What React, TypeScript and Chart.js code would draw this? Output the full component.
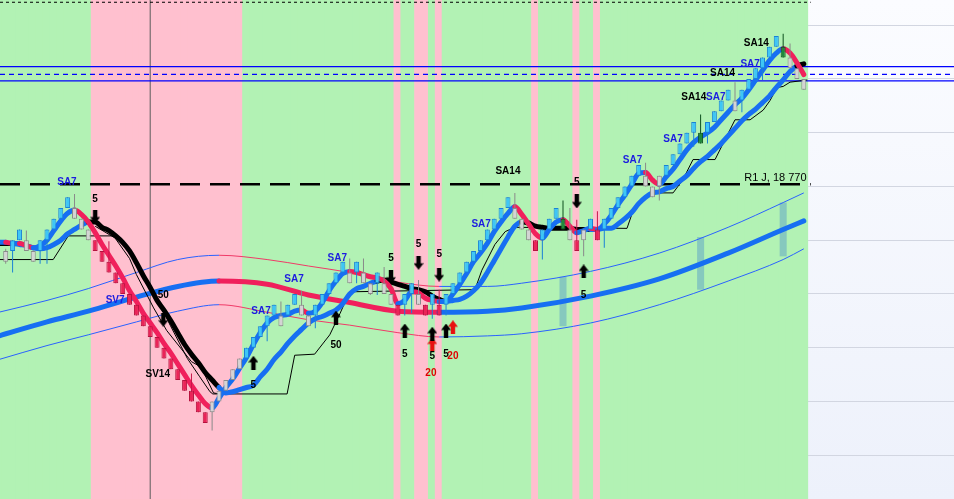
import { useEffect, useRef } from 'react';
import { Chart, registerables } from 'chart.js';

Chart.register(...registerables);

// ---------------- frame (candle index on x, index points on y) ----------------
const X_MIN = -0.83;
const X_MAX = 137.83;
const Y_MIN = 18477.3;
const Y_MAX = 18941.4;
const gridTicks = [18518, 18568, 18618, 18668, 18718, 18768, 18818, 18868, 18918];

// ---------------- range-bar candles (index 0..116) ----------------
const candleOpen = [
  18708, 18708, 18718, 18718, 18708, 18708, 18718, 18728, 18738, 18748,
  18748, 18738, 18728, 18718, 18708, 18698, 18688, 18678, 18668, 18658,
  18648, 18638, 18628, 18618, 18608, 18598, 18588, 18578, 18568, 18558,
  18558, 18568, 18578, 18588, 18598, 18608, 18618, 18628, 18638, 18648,
  18648, 18648, 18658, 18658, 18648, 18648, 18658, 18668, 18678, 18688,
  18688, 18688, 18688, 18678, 18678, 18678, 18668, 18658, 18658, 18668,
  18668, 18658, 18658, 18658, 18658, 18668, 18678, 18688, 18698, 18708,
  18718, 18728, 18738, 18748, 18748, 18738, 18728, 18718, 18718, 18728,
  18738, 18738, 18728, 18718, 18718, 18728, 18728, 18728, 18738, 18748,
  18758, 18768, 18778, 18778, 18768, 18768, 18778, 18788, 18798, 18808,
  18818, 18818, 18818, 18828, 18838, 18848, 18848, 18848, 18858, 18868,
  18878, 18888, 18898, 18898, 18888, 18878, 18868,
];
const candleClose = [
  18698, 18718, 18728, 18708, 18698, 18718, 18728, 18738, 18748, 18758,
  18738, 18728, 18718, 18708, 18698, 18688, 18678, 18668, 18658, 18648,
  18638, 18628, 18618, 18608, 18598, 18588, 18578, 18568, 18558, 18548,
  18568, 18578, 18588, 18598, 18608, 18618, 18628, 18638, 18648, 18658,
  18638, 18658, 18668, 18648, 18638, 18658, 18668, 18678, 18688, 18698,
  18678, 18698, 18678, 18668, 18688, 18668, 18658, 18648, 18668, 18678,
  18658, 18648, 18668, 18648, 18668, 18678, 18688, 18698, 18708, 18718,
  18728, 18738, 18748, 18758, 18738, 18728, 18718, 18708, 18728, 18738,
  18748, 18728, 18718, 18708, 18728, 18738, 18718, 18738, 18748, 18758,
  18768, 18778, 18788, 18768, 18758, 18778, 18788, 18798, 18808, 18818,
  18828, 18808, 18828, 18838, 18848, 18858, 18838, 18858, 18868, 18878,
  18888, 18898, 18908, 18888, 18878, 18868, 18858,
];
const candleHigh = [
  18710, 18718, 18728, 18727, 18708, 18718, 18728, 18738, 18748, 18758,
  18761, 18738, 18728, 18718, 18708, 18717, 18688, 18678, 18668, 18658,
  18648, 18638, 18628, 18618, 18608, 18598, 18588, 18594, 18568, 18558,
  18568, 18578, 18588, 18598, 18608, 18618, 18628, 18638, 18648, 18658,
  18661, 18658, 18668, 18671, 18648, 18658, 18668, 18678, 18688, 18698,
  18701, 18698, 18701, 18678, 18688, 18693, 18668, 18658, 18668, 18678,
  18681, 18658, 18668, 18672, 18668, 18678, 18688, 18698, 18708, 18718,
  18728, 18738, 18748, 18758, 18762, 18738, 18728, 18718, 18728, 18738,
  18748, 18755, 18748, 18737, 18728, 18738, 18745, 18738, 18748, 18758,
  18768, 18778, 18788, 18790, 18768, 18778, 18788, 18798, 18808, 18818,
  18828, 18835, 18828, 18838, 18848, 18858, 18865, 18858, 18868, 18878,
  18888, 18898, 18908, 18910, 18901, 18878, 18868,
];
const candleLow = [
  18696, 18688, 18718, 18708, 18698, 18696, 18696, 18728, 18738, 18748,
  18738, 18728, 18718, 18708, 18698, 18688, 18678, 18668, 18658, 18648,
  18638, 18628, 18618, 18608, 18598, 18588, 18578, 18568, 18558, 18548,
  18541, 18568, 18578, 18588, 18598, 18608, 18618, 18628, 18624, 18648,
  18638, 18648, 18658, 18648, 18638, 18636, 18658, 18668, 18678, 18688,
  18678, 18678, 18678, 18667, 18667, 18668, 18658, 18648, 18648, 18650,
  18658, 18648, 18645, 18648, 18648, 18668, 18678, 18688, 18698, 18708,
  18718, 18728, 18738, 18748, 18738, 18728, 18718, 18708, 18700, 18728,
  18738, 18728, 18718, 18708, 18703, 18728, 18718, 18711, 18738, 18748,
  18758, 18768, 18778, 18768, 18758, 18755, 18778, 18788, 18798, 18808,
  18805, 18808, 18808, 18828, 18838, 18848, 18838, 18837, 18858, 18868,
  18867, 18888, 18898, 18888, 18878, 18868, 18858,
];
// u = trend-up bar, g = counter bar, r = trend-down bar, s = signal bar
const candleState = [
  'g', 'u', 'u', 'g', 'g', 'u', 'u', 'u', 'u', 'u',
  'g', 'g', 'g', 'r', 'r', 'r', 'r', 'r', 'r', 'r',
  'r', 'r', 'r', 'r', 'r', 'r', 'r', 'r', 'r', 'r',
  'g', 'g', 'g', 'g', 'g', 'u', 'u', 'u', 'u', 'u',
  'g', 'u', 'u', 'g', 'g', 'u', 'u', 'u', 'u', 'u',
  'g', 'u', 'g', 'g', 'u', 'g', 'g', 'r', 'u', 'u',
  'g', 'r', 'u', 'r', 'u', 'u', 'u', 'u', 'u', 'u',
  'u', 'u', 'u', 'u', 'g', 'g', 'g', 'r', 'u', 'u',
  'u', 's', 'g', 'r', 'g', 'u', 'r', 'u', 'u', 'u',
  'u', 'u', 'u', 'g', 'g', 'g', 'u', 'u', 'u', 'u',
  'u', 's', 'u', 'u', 'u', 'u', 'g', 'u', 'u', 'u',
  'u', 'u', 'u', 's', 'g', 'g', 'g',
];

// sell (pink) zones, candle index ranges
const sellZones = [[13, 34], [57, 57], [60, 61], [63, 63], [77, 77], [83, 83], [86, 86]];

// ---------------- moving averages (index -1..116) ----------------
const lineStart = -1;
const sa7 = [
  18716,
  18716, 18715, 18715, 18713, 18711, 18713, 18718, 18727, 18736, 18743,
  18746, 18742, 18735, 18725, 18714, 18704, 18694, 18683, 18671, 18661,
  18650, 18641, 18632, 18622, 18613, 18603, 18593, 18583, 18574, 18566,
  18562, 18571, 18581, 18589, 18599, 18609, 18621, 18632, 18641, 18646,
  18648, 18649, 18652, 18653, 18650, 18652, 18660, 18671, 18680, 18687,
  18689, 18688, 18686, 18684, 18683, 18680, 18673, 18659, 18662, 18670,
  18669, 18664, 18662, 18661, 18661, 18668, 18677, 18687, 18698, 18706,
  18715, 18726, 18735, 18743, 18749, 18742, 18733, 18724, 18720, 18728,
  18735, 18737, 18731, 18725, 18727, 18729, 18728, 18733, 18741, 18751,
  18760, 18770, 18780, 18781, 18774, 18770, 18777, 18784, 18793, 18802,
  18809, 18814, 18818, 18823, 18830, 18837, 18844, 18850, 18858, 18867,
  18876, 18885, 18892, 18896, 18892, 18883, 18872,
];
const sa14 = [
  18715,
  18715, 18715, 18714, 18713, 18711, 18710, 18711, 18714, 18718, 18724,
  18728, 18732, 18735, 18735, 18730, 18727, 18722, 18716, 18708, 18697,
  18685, 18674, 18662, 18653, 18643, 18632, 18621, 18612, 18604, 18595,
  18588, 18581, 18576, 18577, 18579, 18581, 18583, 18591, 18598, 18607,
  18614, 18622, 18629, 18635, 18641, 18645, 18647, 18650, 18653, 18659,
  18668, 18673, 18675, 18678, 18680, 18681, 18679, 18677, 18675, 18673,
  18672, 18670, 18666, 18663, 18661, 18662, 18663, 18666, 18671, 18678,
  18688, 18699, 18710, 18721, 18731, 18735, 18734, 18731, 18730, 18729,
  18729, 18729, 18729, 18728, 18728, 18728, 18728, 18729, 18729, 18733,
  18738, 18744, 18752, 18758, 18762, 18763, 18766, 18768, 18773, 18778,
  18785, 18791, 18796, 18802, 18808, 18815, 18822, 18829, 18835, 18840,
  18846, 18852, 18860, 18867, 18875, 18880, 18882,
];
const sa14BearZones = [[-1, 1], [12, 31], [54, 64], [75, 85], [115, 116]];

// 50-period average and its envelope
const maIdx = [-1, 6, 12, 19, 25, 31, 38, 44, 50, 57, 63, 70, 75, 85, 95, 105, 113, 116];
const ma50 = [18629, 18642, 18652, 18665, 18675, 18680, 18677, 18667, 18660, 18652, 18651, 18652, 18655, 18666, 18682, 18706, 18728, 18736];
const envUpper = [18651, 18662, 18673, 18688, 18700, 18704, 18700, 18694, 18688, 18679, 18675, 18675, 18678, 18689, 18706, 18730, 18753, 18762];
const envLower = [18607, 18620, 18630, 18642, 18652, 18658, 18651, 18644, 18639, 18632, 18628, 18629, 18631, 18641, 18658, 18680, 18700, 18710];

// thin trailing lines
const stopIdx = [-1, 6.9, 9.1, 15.9, 17.3, 19.5, 21.0, 23.9, 26.4, 28.2, 29.7, 30.1, 40.9, 42.0, 44.9, 47.1, 48.6, 50.0, 68.2, 69.2, 71.1, 72.6, 74.0, 90.3, 91.0, 92.2, 93.4, 94.4, 97.0, 98.4, 99.9, 103.1, 106.0, 108.2, 110.1, 111.1, 112.1, 113.0, 114.0, 116.5];
const stopVal = [18700, 18700, 18722, 18722, 18714, 18692, 18676, 18639, 18608, 18591, 18577, 18575, 18575, 18611, 18612, 18630, 18650, 18670, 18672, 18690, 18714, 18726, 18730, 18729, 18742, 18755, 18760, 18762, 18762, 18774, 18793, 18793, 18830, 18830, 18839, 18848, 18860, 18861, 18865, 18867];
const stop2Idx = [13.0, 15.9, 18.0, 19.0, 21.5, 23.4, 27.0, 28.4, 30.2, 31.0];
const stop2Val = [18731, 18720, 18701, 18686, 18655, 18634, 18605, 18600, 18576, 18575];

// signal columns
const signalIdx = [81, 101, 113];
const signalLow = [18638, 18672, 18703];
const signalHigh = [18684, 18721, 18753];

// horizontal levels
const r1Level = 18770;
const r1EndIdx = 117;
const topLevel = 18939.3;
const blueLevels = [18879.5, 18866.1];
const blueDashedLevel = 18872.3;
const crosshairIdx = 21;

// arrows
const arrowDownIdx = [13, 22.9, 56, 60, 63, 83];
const arrowDownVal = [18740, 18644, 18684, 18697, 18686, 18754];
const arrowUpIdx = [36, 48, 58, 62, 64, 84];
const arrowUpVal = [18604, 18646, 18634, 18631, 18634, 18689];
const arrowRedIdx = [62, 65];
const arrowRedVal = [18621, 18637];

// text labels
const labelText = ['SA7', '5', 'SV7', '50', 'SV14', '5', 'SA7', 'SA7', 'SA7', '50', '5', '5', '5', '5', '5', '5', '20', '20', 'SA7', 'SA14', '5', '5', 'SA7', 'SA7', 'SA14', 'SA7', 'SA14', 'SA7', 'SA14'];
const labelIdx = [8.9, 13, 15.9, 22.9, 22.1, 36, 37.1, 41.9, 48.2, 48, 56, 60, 63, 58, 62, 64, 65, 61.8, 69.1, 73, 83, 84, 91.1, 97, 100, 103.2, 104.2, 108.2, 109.1];
const labelVal = [18772, 18756, 18662, 18667, 18593, 18583, 18652, 18682, 18701, 18620, 18701, 18714, 18705, 18612, 18610, 18612, 18610, 18594, 18733, 18782, 18772, 18667, 18792, 18812, 18851, 18851, 18873, 18882, 18901];
const labelTone = ['b', 'k', 'b', 'k', 'k', 'k', 'b', 'b', 'b', 'k', 'k', 'k', 'k', 'k', 'k', 'k', 'r', 'r', 'b', 'k', 'k', 'k', 'b', 'b', 'k', 'b', 'k', 'b', 'k'];
const r1Text = 'R1 J, 18 770';
const r1LabelIdx = 116.4;
const r1LabelVal = 18776;

// ---------------- styles ----------------
const GREEN = '#b2f2b4';
const PINK = '#ffc0cf';
const BLUE = '#176ff2';
const RED = '#f0205c';
const ENV_BLUE = '#2a62ff';
const ENV_RED = '#f03a68';
const fillOf: Record<string, string> = { u: '#3ec6f6', g: '#d4d4d4', r: '#ea2458', s: '#1f8a3b' };
const edgeOf: Record<string, string> = { u: '#1a82d6', g: '#8a8a8a', r: '#b4123e', s: '#0c4f1d' };
const wickOf: Record<string, string> = { u: '#1a82d6', g: '#8a8a8a', r: '#c8164a', s: '#0c4f1d' };
const toneOf: Record<string, string> = { b: '#1c1ce0', k: '#000000', r: '#e00000' };

function inZones(zones: number[][], a: number, b: number = a) {
  return zones.some(([s, e]) => a >= s && b <= e);
}

function makeArrow(up: boolean, color: string) {
  const c = document.createElement('canvas');
  c.width = 10;
  c.height = 14;
  const g = c.getContext('2d')!;
  g.fillStyle = color;
  g.beginPath();
  const pts = [[2.8, 0], [7.2, 0], [7.2, 7.5], [10, 7.5], [5, 14], [0, 7.5], [2.8, 7.5]];
  pts.forEach(([px, py], k) => {
    const yy = up ? 14 - py : py;
    if (k === 0) g.moveTo(px, yy);
    else g.lineTo(px, yy);
  });
  g.closePath();
  g.fill();
  return c;
}

const bgPlugin = {
  id: 'pageBg',
  beforeDraw(chart: any) {
    const { ctx, width, height } = chart;
    const grad = ctx.createLinearGradient(0, 0, 0, height);
    grad.addColorStop(0, '#fbfcff');
    grad.addColorStop(1, '#edf1fb');
    ctx.save();
    ctx.fillStyle = grad;
    ctx.fillRect(0, 0, width, height);
    ctx.restore();
  },
};

const labelPlugin = {
  id: 'textLabels',
  afterDatasetsDraw(chart: any) {
    const { ctx } = chart;
    const xs = chart.scales.x;
    const ys = chart.scales.y;
    ctx.save();
    ctx.textAlign = 'center';
    ctx.textBaseline = 'middle';
    ctx.font = 'bold 10px "Liberation Sans", Arial, sans-serif';
    labelText.forEach((t, i) => {
      ctx.fillStyle = toneOf[labelTone[i]];
      ctx.fillText(t, xs.getPixelForValue(labelIdx[i]), ys.getPixelForValue(labelVal[i]));
    });
    ctx.font = '11px "Liberation Sans", Arial, sans-serif';
    ctx.textAlign = 'right';
    ctx.fillStyle = '#000';
    ctx.fillText(r1Text, xs.getPixelForValue(r1LabelIdx), ys.getPixelForValue(r1LabelVal));
    ctx.restore();
  },
};

export default function App() {
  const ref = useRef<HTMLCanvasElement>(null);

  useEffect(() => {
    const canvas = ref.current;
    if (!canvas) return;

    const arrowDown = makeArrow(false, '#000000');
    const arrowUp = makeArrow(true, '#000000');
    const arrowRed = makeArrow(true, '#e81010');

    const candleIdx = candleOpen.map((_, i) => i);
    const bandIdx = [lineStart, ...candleIdx];
    const lineIdx = sa7.map((_, i) => i + lineStart);

    const line = (label: string, data: any[], color: any, width: number, order: number, extra: any = {}) => ({
      type: 'line',
      label,
      data,
      borderColor: color,
      borderWidth: width,
      pointRadius: 0,
      fill: false,
      order,
      ...extra,
    });

    const bar = (label: string, data: any[], colors: any, thickness: number, order: number, extra: any = {}) => ({
      type: 'bar',
      label,
      data,
      backgroundColor: colors,
      barThickness: thickness,
      stack: 'all',
      borderSkipped: false,
      order,
      ...extra,
    });

    const hLine = (label: string, level: number, from: number, to: number, color: string, width: number, dash: number[], order: number) =>
      line(label, [{ x: from, y: level }, { x: to, y: level }], color, width, order, { borderDash: dash });

    const slopeColor = (up: string, down: string) => (c: any) => (c.p1.parsed.y < c.p0.parsed.y ? down : up);

    const datasets: any[] = [
      bar('bands', bandIdx.map((i) => ({ x: i, y: [0, 1] })), bandIdx.map((i) => (inZones(sellZones, i) ? PINK : GREEN)), 8, 100, { yAxisID: 'yBand', borderWidth: 0 }),
      line('crosshair', [{ x: crosshairIdx, y: Y_MIN }, { x: crosshairIdx, y: Y_MAX }], '#5a5a5a', 1, 95),
      bar('signals', signalIdx.map((x, i) => ({ x, y: [signalLow[i], signalHigh[i]] })), 'rgba(90,160,200,0.5)', 7, 90, { borderWidth: 0, inflateAmount: 0 }),
      line('envUpper', maIdx.map((x, i) => ({ x, y: envUpper[i] })), ENV_BLUE, 1, 80, { cubicInterpolationMode: 'monotone', segment: { borderColor: slopeColor(ENV_BLUE, ENV_RED) } }),
      line('envLower', maIdx.map((x, i) => ({ x, y: envLower[i] })), ENV_BLUE, 1, 80, { cubicInterpolationMode: 'monotone', segment: { borderColor: slopeColor(ENV_BLUE, ENV_RED) } }),
      line('ma50', maIdx.map((x, i) => ({ x, y: ma50[i] })), BLUE, 5, 78, { cubicInterpolationMode: 'monotone', borderCapStyle: 'round', borderJoinStyle: 'round', segment: { borderColor: slopeColor(BLUE, RED) } }),
      hLine('top', topLevel, X_MIN, r1EndIdx, '#000000', 1, [3, 3], 70),
      hLine('blue1', blueLevels[0], X_MIN, X_MAX, '#0000ff', 1.3, [], 70),
      hLine('blue2', blueLevels[1], X_MIN, X_MAX, '#0000ff', 1.3, [], 70),
      hLine('blueDash', blueDashedLevel, X_MIN, X_MAX, '#0000ff', 1.3, [5, 4], 70),
      hLine('r1', r1Level, X_MIN, r1EndIdx, '#000000', 2.6, [20, 10], 70),
      line('stop', stopIdx.map((x, i) => ({ x, y: stopVal[i] })), '#000000', 1, 60),
      line('stop2', stop2Idx.map((x, i) => ({ x, y: stop2Val[i] })), '#000000', 1, 60),
      line('sa14', lineIdx.map((x, i) => ({ x, y: sa14[i] })), BLUE, 5, 50, {
        cubicInterpolationMode: 'monotone',
        borderCapStyle: 'round',
        borderJoinStyle: 'round',
        segment: { borderColor: (c: any) => (inZones(sa14BearZones, c.p0.parsed.x, c.p1.parsed.x) ? '#000000' : BLUE) },
      }),
      line('sa7', lineIdx.map((x, i) => ({ x, y: sa7[i] })), BLUE, 5, 45, {
        cubicInterpolationMode: 'monotone',
        borderCapStyle: 'round',
        borderJoinStyle: 'round',
        segment: { borderColor: slopeColor(BLUE, RED) },
      }),
      bar('wicks', candleIdx.map((i) => ({ x: i, y: [candleLow[i], candleHigh[i]] })), candleState.map((s) => wickOf[s]), 1, 30, { borderWidth: 0, inflateAmount: 0 }),
      bar('bodies', candleIdx.map((i) => ({ x: i, y: [candleOpen[i], candleClose[i]] })), candleState.map((s) => fillOf[s]), 5, 25, {
        borderColor: candleState.map((s) => edgeOf[s]),
        borderWidth: 1,
        inflateAmount: 0,
      }),
      line('arrowsDown', arrowDownIdx.map((x, i) => ({ x, y: arrowDownVal[i] })), '#000', 0, 10, { showLine: false, pointRadius: 5, pointStyle: arrowDown }),
      line('arrowsUp', arrowUpIdx.map((x, i) => ({ x, y: arrowUpVal[i] })), '#000', 0, 10, { showLine: false, pointRadius: 5, pointStyle: arrowUp }),
      line('arrowsRed', arrowRedIdx.map((x, i) => ({ x, y: arrowRedVal[i] })), '#e81010', 0, 10, { showLine: false, pointRadius: 5, pointStyle: arrowRed }),
    ];

    const chart = new Chart(canvas, {
      type: 'line',
      data: { datasets },
      options: {
        responsive: false,
        animation: false,
        devicePixelRatio: 1,
        events: [],
        layout: { padding: 0, autoPadding: false },
        plugins: { legend: { display: false }, tooltip: { enabled: false }, title: { display: false } },
        scales: {
          x: { type: 'linear', min: X_MIN, max: X_MAX, display: false, offset: false },
          y: {
            type: 'linear',
            position: 'left',
            min: Y_MIN,
            max: Y_MAX,
            stacked: false,
            bounds: 'data',
            afterFit: (s: any) => { s.width = 0; },
            afterBuildTicks: (s: any) => { s.ticks = gridTicks.map((v) => ({ value: v })); },
            ticks: { display: false },
            grid: { color: '#d2d6e1', lineWidth: 1, drawTicks: false },
            border: { display: false },
          },
          yBand: { type: 'linear', min: 0, max: 1, display: false, stacked: false },
        },
      } as any,
      plugins: [bgPlugin, labelPlugin],
    } as any);

    return () => chart.destroy();
  }, []);

  return (
    <div style={{ position: 'fixed', left: 0, top: 0, width: 954, height: 499 }}>
      <canvas ref={ref} width={954} height={499} style={{ display: 'block', width: 954, height: 499 }} />
    </div>
  );
}
